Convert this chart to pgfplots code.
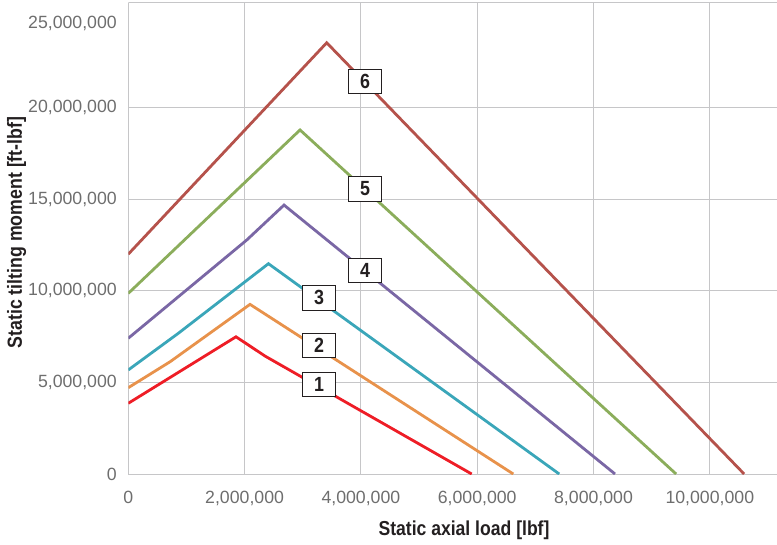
\documentclass[border=0pt]{standalone}
\usepackage{fontspec}
\setmainfont{Liberation Sans}
\newfontfamily\labelfont[FakeStretch=0.87]{Liberation Sans}
\usepackage{pgfplots}
\pgfplotsset{compat=1.18}
\definecolor{gridc}{HTML}{C6C6C8}
\definecolor{tickc}{HTML}{6E6E6E}
\definecolor{labc}{HTML}{231F20}
\definecolor{c1}{HTML}{EE1D26}
\definecolor{c2}{HTML}{E8924B}
\definecolor{c3}{HTML}{3AA6B9}
\definecolor{c4}{HTML}{7A67A5}
\definecolor{c5}{HTML}{8BAD5B}
\definecolor{c6}{HTML}{B5524B}
\tikzset{boxlab/.style={draw=labc, fill=white, line width=0.8pt, minimum width=33pt, minimum height=24.5pt, inner sep=0pt, text=labc, font=\labelfont\bfseries\fontsize{20.5}{22}\selectfont}}
\begin{document}
\begin{tikzpicture}
\begin{axis}[
  at={(0pt,0pt)}, anchor=south west,
  scale only axis, width=648.7pt, height=471pt,
  xmin=0, xmax=11155000, ymin=0, ymax=25710000,
  axis x line*=bottom, axis y line*=left,
  axis line style={gridc, line width=1pt, -},
  xtick={0,2000000,4000000,6000000,8000000,10000000},
  ytick={0,5000000,10000000,15000000,20000000},
  extra y ticks={25000000},
  extra y tick style={grid=none, yticklabel style={yshift=-7pt}},
  grid=major, major grid style={gridc, line width=1pt},
  major tick length=0pt,
  scaled ticks=false,
  tick label style={font=\fontsize{17.7}{20}\selectfont, text=tickc},
  /pgf/number format/assume math mode=true,
  /pgf/number format/fixed,
  /pgf/number format/1000 sep={,},
  xticklabel style={yshift=-14pt},
  yticklabel style={xshift=-8pt},
  xlabel={Static axial load [lbf]},
  ylabel={Static tilting moment [ft-lbf]},
  xlabel style={at={(rel axis cs:0.5175,-0.1189)}, anchor=center, font=\labelfont\bfseries\fontsize{20.2}{22}\selectfont, text=labc},
  ylabel style={at={(rel axis cs:-0.1720,0.5127)}, anchor=center, font=\labelfont\bfseries\fontsize{20.4}{22}\selectfont, text=labc},
  every axis plot/.append style={line width=2.8pt, no markers},
]
\addplot[c1] coordinates {(0,3860000) (1852000,7490000) (2350000,6440000) (5905000,0)};
\addplot[c2] coordinates {(0,4710000) (720000,6130000) (2093000,9260000) (6620000,0)};
\addplot[c3] coordinates {(0,5680000) (860000,7680000) (2410000,11480000) (7410000,0)};
\addplot[c4] coordinates {(0,7410000) (2036000,12770000) (2678000,14680000) (8370000,0)};
\addplot[c5] coordinates {(0,9860000) (2953000,18780000) (9420000,0)};
\addplot[c6] coordinates {(0,12000000) (3412000,23540000) (10590000,0)};
\draw[gridc, line width=1pt] (rel axis cs:0,1) -- (rel axis cs:1,1);
\node[boxlab] at (axis cs:4070000,21440000) {6};
\node[boxlab] at (axis cs:4070000,15570000) {5};
\node[boxlab] at (axis cs:4070000,11120000) {4};
\node[boxlab] at (axis cs:3280000,9620000) {3};
\node[boxlab] at (axis cs:3280000,7030000) {2};
\node[boxlab] at (axis cs:3280000,4900000) {1};
\end{axis}
\pgfresetboundingbox
\path (-128.3pt,-70pt) rectangle (648.7pt,474pt);
\end{tikzpicture}
\end{document}
